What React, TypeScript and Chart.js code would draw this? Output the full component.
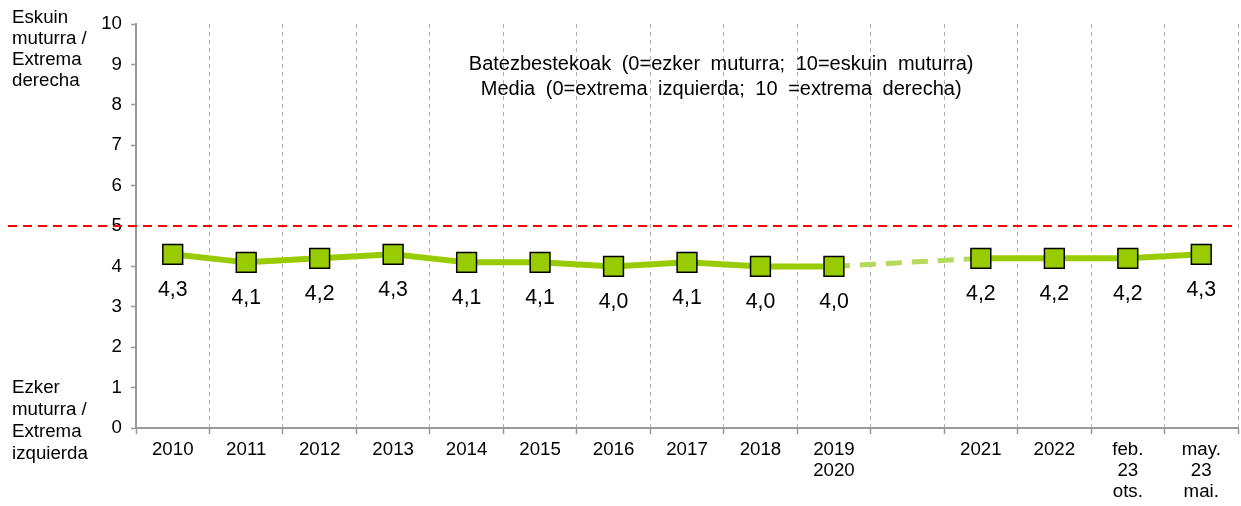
import React, { useEffect, useRef } from "react";
import { Chart, registerables } from "chart.js";

Chart.register(...registerables);

const categories: string[][] = [
  ["2010"], ["2011"], ["2012"], ["2013"], ["2014"], ["2015"], ["2016"], ["2017"], ["2018"],
  ["2019", "2020"], [""], ["2021"], ["2022"], ["feb.", "23", "ots."], ["may.", "23", "mai."],
];
const meanValues: (number | null)[] = [4.3, 4.1, 4.2, 4.3, 4.1, 4.1, 4.0, 4.1, 4.0, 4.0, null, 4.2, 4.2, 4.2, 4.3];
const bridgeValues: (number | null)[] = [null, null, null, null, null, null, null, null, null, 4.0, null, 4.2, null, null, null];
const yTicks: number[] = [0, 1, 2, 3, 4, 5, 6, 7, 8, 9, 10];
const referenceValue = 5;
const chartTitle: string[] = [
  "Batezbestekoak (0=ezker muturra; 10=eskuin muturra)",
  "Media (0=extrema izquierda; 10 =extrema derecha)",
];
const topAxisNote: string[] = ["Eskuin", "muturra /", "Extrema", "derecha"];
const bottomAxisNote: string[] = ["Ezker", "muturra /", "Extrema", "izquierda"];

const FONT = "'Liberation Sans', Arial, sans-serif";

const annotations = {
  id: "annotations",
  beforeDatasetsDraw(chart: any) {
    const { ctx, chartArea, scales } = chart;
    const y = scales.y.getPixelForValue(referenceValue);
    ctx.save();
    ctx.strokeStyle = "#FF0000";
    ctx.lineWidth = 2;
    ctx.setLineDash([9, 6]);
    ctx.beginPath();
    ctx.moveTo(8, y);
    ctx.lineTo(chartArea.right, y);
    ctx.stroke();
    ctx.restore();
  },
  afterDatasetsDraw(chart: any) {
    const { ctx, chartArea } = chart;
    ctx.save();
    ctx.fillStyle = "#000";
    // data labels
    ctx.font = `21.3px ${FONT}`;
    ctx.textAlign = "center";
    ctx.textBaseline = "middle";
    const meta = chart.getDatasetMeta(0);
    meta.data.forEach((el: any, i: number) => {
      const v = meanValues[i];
      if (v === null) return;
      ctx.fillText(v.toFixed(1).replace(".", ","), el.x, el.y + 36);
    });
    // title
    ctx.font = `20px ${FONT}`;
    try {
      (ctx as any).wordSpacing = "5px";
    } catch (e) {}
    const cx = chartArea.left + (chartArea.right - chartArea.left) * 0.531;
    chartTitle.forEach((t, i) => ctx.fillText(t, cx, chartArea.top + 40 + i * 25));
    try {
      (ctx as any).wordSpacing = "0px";
    } catch (e) {}
    // side notes
    ctx.font = `18.7px ${FONT}`;
    ctx.textAlign = "left";
    topAxisNote.forEach((t, i) => ctx.fillText(t, 12, 17.5 + i * 21));
    bottomAxisNote.forEach((t, i) => ctx.fillText(t, 12, 388 + i * 22));
    ctx.restore();
  },
};

export default function App() {
  const ref = useRef<HTMLCanvasElement | null>(null);
  useEffect(() => {
    if (!ref.current) return;
    const chart = new Chart(ref.current, {
      type: "line",
      data: {
        labels: categories,
        datasets: [
          {
            data: meanValues,
            borderColor: "#99CC00",
            borderWidth: 6,
            pointStyle: "rect",
            pointRadius: 14,
            pointHoverRadius: 14,
            pointBackgroundColor: "#99CC00",
            pointBorderColor: "#000",
            pointBorderWidth: 1.5,
            spanGaps: false,
            tension: 0,
          },
          {
            data: bridgeValues,
            borderColor: "#B5D95A",
            borderWidth: 5,
            borderDash: [16, 10],
            pointRadius: 0,
            spanGaps: true,
            tension: 0,
          },
        ],
      },
      options: {
        animation: false,
        responsive: true,
        maintainAspectRatio: false,
        layout: { autoPadding: false, padding: { left: 0, right: 3, top: 24, bottom: 0 } },
        plugins: { legend: { display: false }, tooltip: { enabled: false }, title: { display: false } },
        scales: {
          x: {
            type: "category",
            offset: true,
            grid: {
              offset: true,
              display: true,
              drawOnChartArea: true,
              color: "#B0B0B0",
              lineWidth: 1,
              drawTicks: true,
              tickLength: 6,
              tickColor: "#999",
              tickWidth: 1.5,
            },
            border: { display: true, color: "#999", width: 2, dash: [4, 4] },
            ticks: {
              color: "#000",
              font: { family: FONT, size: 18.7, lineHeight: 1.1 },
              padding: 6,
              maxRotation: 0,
              autoSkip: false,
            },
            afterFit: (s: any) => {
              s.height = 78;
              s.paddingLeft = 0;
              s.paddingRight = 0;
            },
          },
          y: {
            min: 0,
            max: 10,
            afterBuildTicks: (s: any) => {
              s.ticks = yTicks.map((v) => ({ value: v }));
            },
            ticks: { color: "#000", font: { family: FONT, size: 18.7 }, padding: 9 },
            grid: { drawOnChartArea: false, drawTicks: true, tickLength: 5, tickColor: "#999", tickWidth: 1.5 },
            border: { display: true, color: "#999", width: 2 },
            afterFit: (s: any) => {
              s.width = 136;
              s.paddingTop = 0;
              s.paddingBottom = 0;
            },
          },
        },
      },
      plugins: [annotations],
    });
    return () => chart.destroy();
  }, []);
  return (
    <div style={{ position: "fixed", left: 0, top: 0, width: 1241, height: 506, background: "#fff" }}>
      <canvas ref={ref} />
    </div>
  );
}
